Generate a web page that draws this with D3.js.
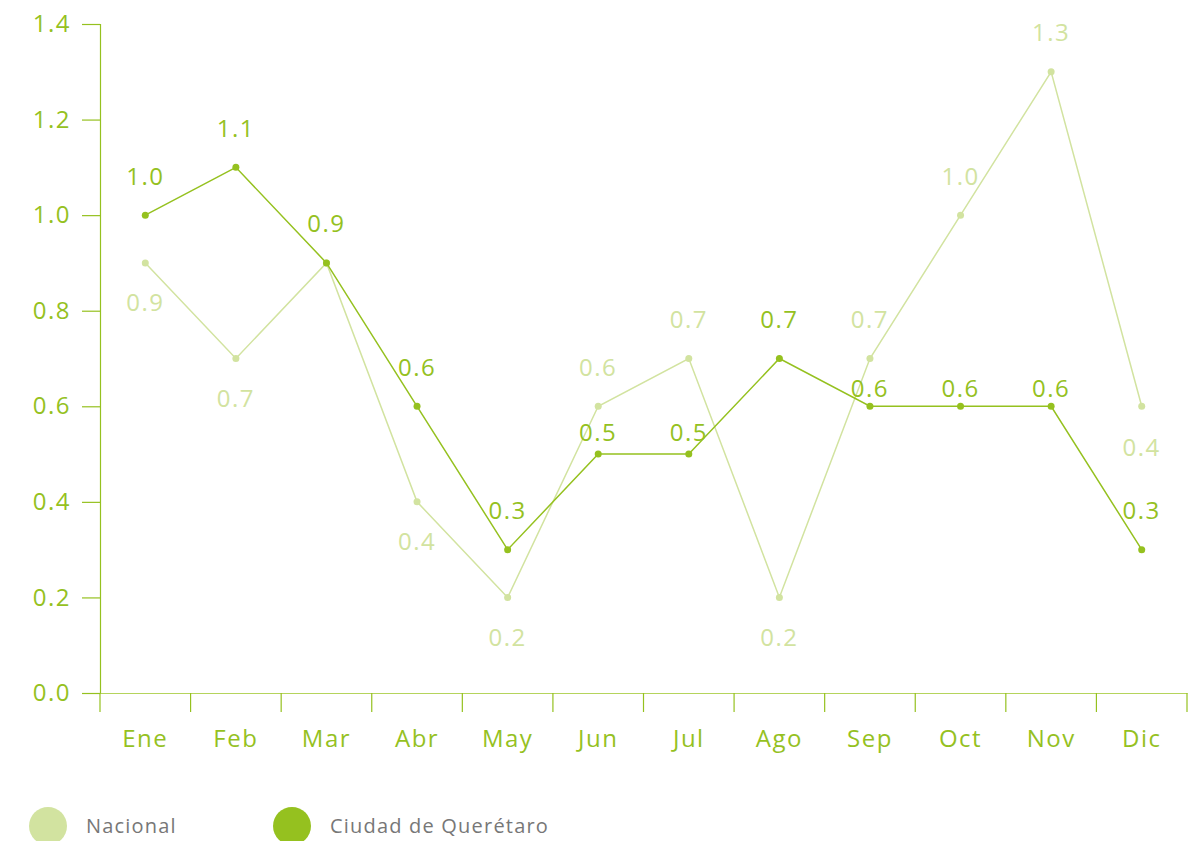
<!DOCTYPE html>
<html>
<head>
<meta charset="utf-8">
<script src="https://cdn.jsdelivr.net/npm/d3@7"></script>
<style>
  body { margin: 0; background: #fff; }
  text { font-family: "Open Sans", "DejaVu Sans", sans-serif; font-weight: 400; }
</style>
</head>
<body>
<div id="chart"></div>
<script>
// chart data
let months = ["Ene", "Feb", "Mar", "Abr", "May", "Jun", "Jul", "Ago", "Sep", "Oct", "Nov", "Dic"];
let nacional = [0.9, 0.7, 0.9, 0.4, 0.2, 0.6, 0.7, 0.2, 0.7, 1.0, 1.3, 0.6];
let nacionalLabels = ["0.9", "0.7", "", "0.4", "0.2", "0.6", "0.7", "0.2", "0.7", "1.0", "1.3", "0.4"];
let queretaro = [1.0, 1.1, 0.9, 0.6, 0.3, 0.5, 0.5, 0.7, 0.6, 0.6, 0.6, 0.3];
let queretaroLabels = ["1.0", "1.1", "0.9", "0.6", "0.3", "0.5", "0.5", "0.7", "0.6", "0.6", "0.6", "0.3"];
let yTicks = [0, 0.2, 0.4, 0.6, 0.8, 1.0, 1.2, 1.4];
let seriesNames = ["Nacional", "Ciudad de Querétaro"];

// label placement (style): offsets in px from the point
let nacionalOffset = [40, 40, 0, 40, 40, -39, -39, 40, -39, -39, -39, 41];
let queretaroOffset = [-39, -39, -39, -39, -39, -21, -21, -39, -18, -18, -18, -39];

let width = 1202, height = 841;
let darkGreen = "#95c11f";
let lightGreen = "#d2e3a0";

let svg = d3.select("#chart")
  .append("svg")
  .attr("width", width)
  .attr("height", height);

let x = d3.scaleBand()
  .domain(months)
  .range([100, 1187]);

let y = d3.scaleLinear()
  .domain([0, 1.4])
  .range([693, 24]);

//y axis
let yAxis = svg.append("g")
  .attr("transform", "translate(100,0)")
  .call(d3.axisLeft(y).tickValues(yTicks).tickFormat(d3.format(".1f")).tickSize(18).tickPadding(11));

//x axis
let xAxis = svg.append("g")
  .attr("transform", "translate(0,693)")
  .call(d3.axisBottom(x).tickSize(0).tickPadding(37));

// ticks at band edges
xAxis.selectAll(".edge")
  .data(months.concat(["end"]))
  .enter()
  .append("line")
  .attr("class", "edge")
  .attr("x1", function(d, i) { return i < months.length ? x(d) : x.range()[1]; })
  .attr("x2", function(d, i) { return i < months.length ? x(d) : x.range()[1]; })
  .attr("y1", 0)
  .attr("y2", 19)
  .attr("stroke", darkGreen)
  .attr("stroke-width", 1.2);

svg.selectAll(".domain")
  .attr("stroke", darkGreen)
  .attr("stroke-width", 1.2);
yAxis.selectAll(".tick line")
  .attr("stroke", darkGreen)
  .attr("stroke-width", 1.2);
svg.selectAll(".tick text")
  .attr("fill", darkGreen)
  .style("font-size", "24px")
  .style("letter-spacing", "1.5px");
// x axis baseline is lighter in the reference
xAxis.select(".domain").attr("stroke", "#b5d45c");

let cx = function(d, i) { return x(months[i]) + x.bandwidth() / 2; };

function drawSeries(values, labels, offsets, color) {
  let line = d3.line()
    .x(function(d, i) { return cx(d, i); })
    .y(function(d) { return y(d); });

  svg.append("path")
    .datum(values)
    .attr("d", line)
    .attr("fill", "none")
    .attr("stroke", color)
    .attr("stroke-width", 1.5);

  svg.append("g")
    .selectAll("circle")
    .data(values)
    .enter()
    .append("circle")
    .attr("cx", cx)
    .attr("cy", function(d) { return y(d); })
    .attr("r", 3.5)
    .attr("fill", color);

  svg.append("g")
    .selectAll("text")
    .data(values)
    .enter()
    .append("text")
    .attr("x", cx)
    .attr("y", function(d, i) { return y(d) + offsets[i]; })
    .attr("dy", "0.35em")
    .attr("text-anchor", "middle")
    .style("font-size", "24px")
    .style("letter-spacing", "1.5px")
    .attr("fill", color)
    .text(function(d, i) { return labels[i]; });
}

drawSeries(nacional, nacionalLabels, nacionalOffset, lightGreen);
drawSeries(queretaro, queretaroLabels, queretaroOffset, darkGreen);

//legend
let legend = svg.append("g")
  .selectAll("g")
  .data(seriesNames)
  .enter()
  .append("g")
  .attr("transform", function(d, i) { return "translate(" + (48 + i * 244) + ",826)"; });

legend.append("circle")
  .attr("r", 19)
  .attr("fill", function(d, i) { return i === 0 ? lightGreen : darkGreen; });

legend.append("text")
  .attr("x", 38)
  .attr("dy", "0.35em")
  .style("font-size", "20px")
  .style("letter-spacing", "1.2px")
  .attr("fill", "#777")
  .text(function(d) { return d; });
</script>
</body>
</html>
